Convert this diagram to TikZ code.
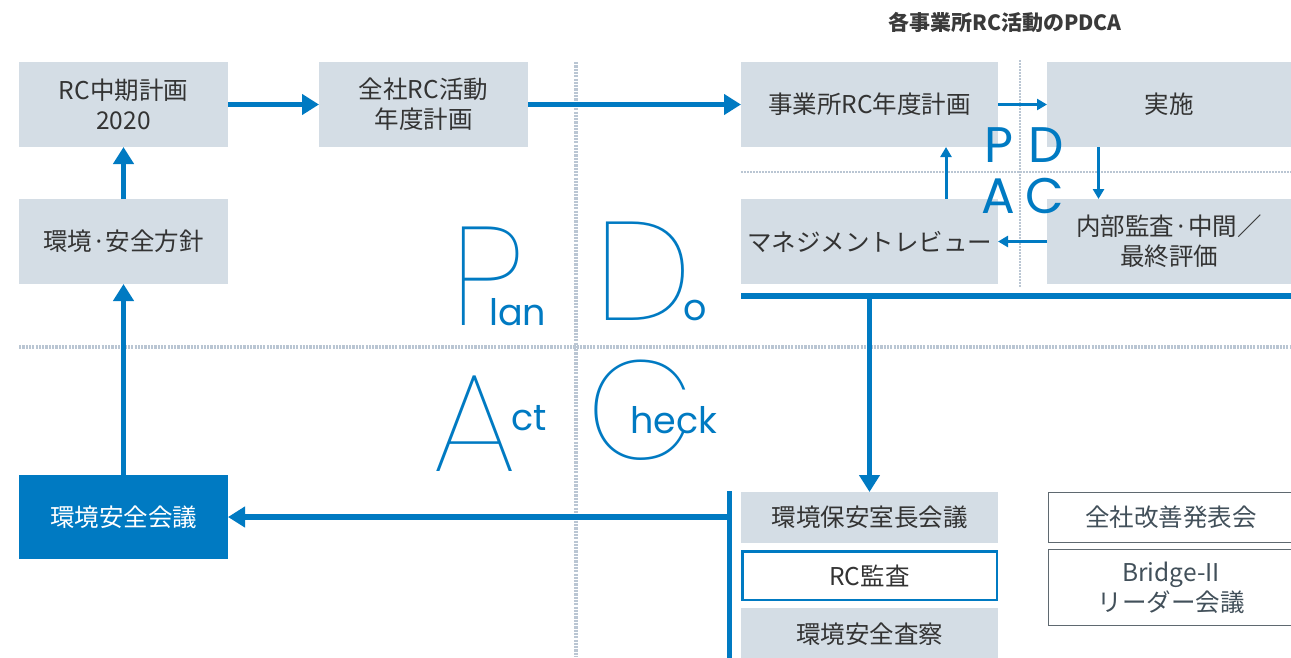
\documentclass[tikz,border=0pt]{standalone}
\usepackage{fontspec}
\setmainfont{Noto Sans CJK JP}
\newfontfamily\cjk{Noto Sans CJK JP}
\newfontfamily\popthin{Poppins Thin}
\newfontfamily\pop{Poppins}
\usetikzlibrary{arrows.meta,calc}
\definecolor{blu}{RGB}{0,122,194}
\definecolor{boxg}{RGB}{212,221,229}
\definecolor{txt}{RGB}{51,51,51}
\definecolor{ttl}{RGB}{58,58,58}
\definecolor{slate}{RGB}{66,80,90}
\definecolor{edgec}{RGB}{95,105,112}
\definecolor{dotc}{RGB}{186,198,211}
\begin{document}
\begin{tikzpicture}[x=1pt,y=-1pt,
  box/.style={fill=boxg, inner sep=0pt, outer sep=0pt, align=center, text=txt,
    font=\cjk\fontsize{24.5}{30}\selectfont, anchor=north west},
  wbox/.style={box, fill=white, draw=edgec, line width=1.3pt, text=slate},
  bigarrow/.style={draw=blu, line width=5.5pt, -{Triangle[width=20pt,length=17pt]}},
  smallarrow/.style={draw=blu, line width=3pt, -{Triangle[width=11pt,length=10pt]}},
  bigline/.style={draw=blu, line width=5.5pt},
  bigdot/.style={draw=dotc, line width=4pt, dash pattern=on 2.2pt off 1.1pt},
  smalldot/.style={draw=dotc, line width=2pt, dash pattern=on 1.7pt off 1.3pt},
  pd/.style={font=\pop\fontsize{50}{50}\selectfont, text=blu, inner sep=0pt, anchor=base},
  bigcap/.style={font=\popthin\fontsize{140}{140}\selectfont, text=blu, inner sep=0pt, anchor=base west},
  lowc/.style={font=\pop\fontsize{36.5}{36.5}\selectfont, text=blu, inner sep=0pt, anchor=base west}
]
\useasboundingbox (0,0) rectangle (1291,657);
\fill[white] (0,0) rectangle (1291,657);

% dotted grid lines
\draw[bigdot] (576,62) -- (576,657);
\draw[bigdot] (19,347) -- (1291,347);
\draw[smalldot] (1020,60) -- (1020,287);
\draw[smalldot] (741,172) -- (1291,172);

% title
\node[font=\cjk\bfseries\fontsize{21}{25}\selectfont, text=ttl] (T) at (1005,22) {各事業所RC活動のPDCA};

% boxes
\node[box, minimum width=209pt, minimum height=85pt] (A) at (19,62) {RC中期計画\\2020};
\node[box, minimum width=209pt, minimum height=85pt] (B) at (319,62) {全社RC活動\\年度計画};
\node[box, minimum width=257pt, minimum height=85pt] (C) at (741,62) {事業所RC年度計画};
\node[box, minimum width=244pt, minimum height=85pt] (D) at (1047,62) {実施};
\node[box, minimum width=257pt, minimum height=85pt] (E) at (741,199) {マネジメントレビュー};
\node[box, minimum width=244pt, minimum height=85pt] (F) at (1047,199) {内部監査·中間／\\最終評価};
\node[box, minimum width=209pt, minimum height=85pt] (G) at (19,199) {環境·安全方針};
\node[box, fill=blu, text=white, minimum width=209pt, minimum height=84pt] (H) at (19,475) {環境安全会議};
\node[box, minimum width=257pt, minimum height=51pt] (K1) at (741,492) {環境保安室長会議};
\node[box, fill=white, draw=blu, line width=2.5pt, minimum width=254.5pt, minimum height=48.5pt] (K2) at (742.25,551.25) {RC監査};
\node[box, minimum width=257pt, minimum height=52pt] (K3) at (741,608) {環境安全査察};
\node[wbox, minimum width=245pt, minimum height=50pt] (R1) at (1048.6,492.6) {全社改善発表会};
\node[wbox, minimum width=245pt, minimum height=76pt] (R2) at (1048.6,549.6) {Bridge-II\\リーダー会議};

% small PDCA letters
\node[pd] (p) at (999,162) {P};
\node[pd] (d) at (1046,162) {D};
\node[pd] (a) at (998.5,213) {A};
\node[pd] (c) at (1045,213) {C};

% big PDCA words
\node[bigcap] (P) at (450,325) {P};
\node[lowc] (lan) at (489,325) {lan};
\node[bigcap] (Dd) at (594,320) {D};
\node[lowc] (o) at (683,320) {o};
\node[bigcap] (Aa) at (432,471) {A};
\node[lowc] (ct) at (511,430) {ct};
\node[bigcap] (Cc) at (586,459) {C};
\node[lowc] (heck) at (630,433) {heck};

% arrows (left flow)
\draw[bigarrow] (A.east) -- (B.west);
\draw[bigarrow] (B.east) -- (C.west);
\draw[bigarrow] (G.north) -- (A.south);
\draw[bigarrow] (H.north) -- (G.south);

% PDCA panel arrows
\draw[smallarrow] (C.east) -- (D.west);
\draw[smallarrow] ($(D.south west)+(51.5,0)$) -- ($(F.north west)+(51.5,0)$);
\draw[smallarrow] (F.west) -- (E.east);
\draw[smallarrow] ($(E.north west)+(205,0)$) -- ($(C.south west)+(205,0)$);

% blue bar and down arrow
\coordinate (L1) at (741,296);
\coordinate (L2) at (1291,296);
\draw[bigline] (L1) -- (L2);
\draw[bigarrow] (K1.north |- L1) -- (K1.north);

% bracket and arrow to 環境安全会議
\coordinate (b1) at (729.5,491);
\coordinate (b2) at (729.5,660);
\draw[bigline, line width=5pt] (b1) -- (b2);
\draw[bigarrow] (b1 |- H.east) -- (H.east);
\end{tikzpicture}
\end{document}
